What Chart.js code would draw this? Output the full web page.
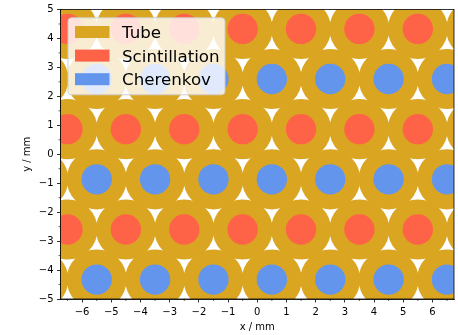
<!DOCTYPE html>
<html>
<head>
<meta charset="utf-8">
<script src="https://cdn.jsdelivr.net/npm/chart.js@4.4.1/dist/chart.umd.min.js"></script>
<style>
  html, body { margin: 0; padding: 0; background: #fff; }
  #wrap { width: 458px; height: 335px; }
</style>
</head>
<body>
<div id="wrap"><canvas id="myChart" width="458" height="335"></canvas></div>
<script>
// fibre centres in mm (hexagonal pitch 2 mm)
const scintX = [-6.5, -4.5, -2.5, -0.5, 1.5, 3.5, 5.5, 7.5];
const scintY = [4.33, 0.866, -2.598];
const cherX = [-7.5, -5.5, -3.5, -1.5, 0.5, 2.5, 4.5, 6.5];
const cherY = [2.598, -0.866, -4.33];

// axes
const xTicks = [-6, -5, -4, -3, -2, -1, 0, 1, 2, 3, 4, 5, 6];
const yTicks = [-5, -4, -3, -2, -1, 0, 1, 2, 3, 4, 5];
const xMinor = [-6.5, -5.5, -4.5, -3.5, -2.5, -1.5, -0.5, 0.5, 1.5, 2.5, 3.5, 4.5, 5.5, 6.5];
const yMinor = [-4.5, -3.5, -2.5, -1.5, -0.5, 0.5, 1.5, 2.5, 3.5, 4.5];

const tubeR = 1.03; // mm
const coreR = 0.52; // mm
const FONT = '"DejaVu Sans", sans-serif';

const grid = (xs, ys) => ys.flatMap((y) => xs.map((x) => ({ x: x, y: y })));
const radiusPx = (ctx, r) => {
  const sx = ctx.chart.scales.x;
  return sx.getPixelForValue(r) - sx.getPixelForValue(0);
};
const fmt = (v) => (v < 0 ? "\u2212" + Math.abs(v) : String(v));

const dataset = (label, data, color, r, order) => ({
  label: label,
  data: data,
  backgroundColor: color,
  pointBackgroundColor: color,
  pointBorderWidth: 0,
  pointRadius: (ctx) => radiusPx(ctx, r),
  pointHoverRadius: (ctx) => radiusPx(ctx, r),
  clip: 0,
  order: order,
});

// top/right spines, minor ticks and the legend box inside the axes
const frame = {
  id: "frame",
  afterDraw(chart) {
    const { ctx, chartArea: a, scales } = chart;
    ctx.save();
    ctx.strokeStyle = "#000";
    ctx.lineWidth = 0.8;
    ctx.strokeRect(a.left, a.top, a.right - a.left, a.bottom - a.top);

    ctx.lineWidth = 0.6;
    ctx.beginPath();
    xMinor.forEach((v) => {
      const p = scales.x.getPixelForValue(v);
      ctx.moveTo(p, a.bottom);
      ctx.lineTo(p, a.bottom + 2);
    });
    yMinor.forEach((v) => {
      const p = scales.y.getPixelForValue(v);
      ctx.moveTo(a.left, p);
      ctx.lineTo(a.left - 2, p);
    });
    ctx.stroke();

    // legend
    const lx = a.left + 7.5, ly = a.top + 8.3, lw = 157, lh = 77;
    ctx.beginPath();
    if (ctx.roundRect) ctx.roundRect(lx, ly, lw, lh, 3.5);
    else ctx.rect(lx, ly, lw, lh);
    ctx.fillStyle = "rgba(255,255,255,0.8)";
    ctx.fill();
    ctx.strokeStyle = "#cccccc";
    ctx.lineWidth = 1;
    ctx.stroke();

    ctx.font = "16.7px " + FONT;
    ctx.textBaseline = "alphabetic";
    ctx.textAlign = "left";
    chart.data.datasets.forEach((ds, i) => {
      const cy = ly + 14.2 + i * 23.6;
      ctx.fillStyle = ds.backgroundColor;
      ctx.fillRect(lx + 7, cy - 6, 34.5, 12);
      ctx.fillStyle = "#000";
      ctx.fillText(ds.label, lx + 54, cy + 6.2);
    });
    ctx.restore();
  },
};

const axis = (ticks, min, max, title, isX) => ({
  type: "linear",
  min: min,
  max: max,
  afterBuildTicks: (s) => { s.ticks = ticks.map((v) => ({ value: v })); },
  afterFit: (s) => {
    if (isX) s.height = 36;
    else s.width = 60.5;
  },
  grid: {
    drawOnChartArea: false,
    drawTicks: true,
    tickLength: 3.5,
    tickColor: "#000",
    tickWidth: 0.8,
  },
  border: { display: true, color: "#000", width: 0.8 },
  ticks: {
    color: "#000",
    font: { family: FONT, size: 10 },
    padding: 3.5,
    maxRotation: 0,
    autoSkip: false,
    callback: fmt,
  },
  title: {
    display: true,
    text: title,
    color: "#000",
    font: { family: FONT, size: 10 },
    padding: isX ? { top: 0, bottom: 2 } : { top: 21, bottom: 0 },
  },
});

new Chart(document.getElementById("myChart"), {
  type: "scatter",
  plugins: [frame],
  data: {
    datasets: [
      dataset("Tube", grid(scintX, scintY).concat(grid(cherX, cherY)), "#DAA520", tubeR, 1),
      dataset("Scintillation", grid(scintX, scintY), "#FF6347", coreR, 0),
      dataset("Cherenkov", grid(cherX, cherY), "#6495ED", coreR, 0),
    ],
  },
  options: {
    responsive: false,
    animation: false,
    devicePixelRatio: 1,
    events: [],
    layout: { padding: { top: 6.7, right: 4, left: 0, bottom: 0 } },
    plugins: {
      legend: { display: false },
      tooltip: { enabled: false },
    },
    scales: {
      x: axis(xTicks, -6.74, 6.74, "x / mm", true),
      y: axis(yTicks, -5, 5, "y / mm", false),
    },
  },
});
</script>
</body>
</html>
